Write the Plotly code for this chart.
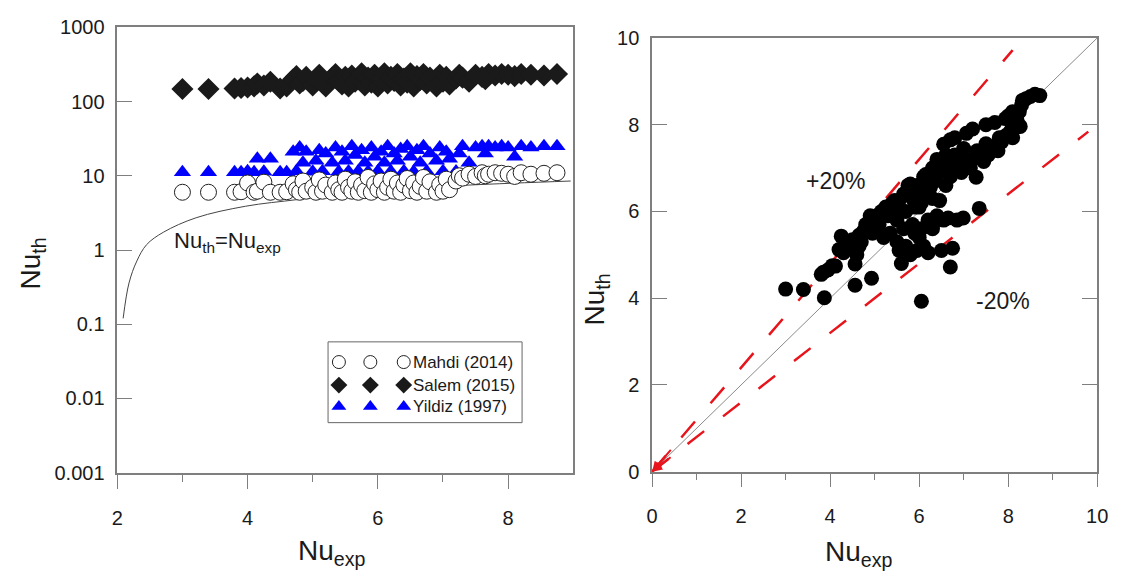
import plotly.graph_objects as go

# ---------------- data: left panel (log scale) ----------------
nu_exp_left = [3.0, 3.4, 3.8, 3.9, 4.0, 4.1, 4.15, 4.25, 4.35, 4.5, 4.6, 4.7, 4.75, 4.8, 4.85,
               4.9, 5.0, 5.05, 5.1, 5.15, 5.2, 5.3, 5.35, 5.4, 5.45, 5.5, 5.55, 5.6, 5.65, 5.7,
               5.75, 5.8, 5.85, 5.9, 5.95, 6.0, 6.05, 6.1, 6.15, 6.2, 6.25, 6.3, 6.35, 6.4, 6.45,
               6.5, 6.55, 6.6, 6.65, 6.7, 6.75, 6.8, 6.9, 6.95, 7.0, 7.05, 7.1, 7.2, 7.25, 7.3,
               7.4, 7.5, 7.6, 7.65, 7.7, 7.8, 7.9, 8.0, 8.1, 8.2, 8.35, 8.55, 8.75]
mahdi = [6.0, 6.0, 6.0, 6.1, 8.0, 6.0, 6.2, 8.2, 6.0, 6.0, 6.1, 7.8, 6.5, 6.0, 8.5,
         6.2, 7.0, 6.0, 8.8, 6.2, 7.5, 6.0, 8.0, 6.5, 6.0, 9.0, 7.0, 6.2, 8.3, 6.0,
         7.5, 6.3, 9.5, 6.0, 7.8, 6.5, 8.5, 6.0, 7.0, 9.0, 6.2, 8.0, 6.0, 7.5, 9.2,
         6.3, 8.0, 6.0, 7.2, 9.5, 6.2, 8.3, 6.0, 7.6, 6.2, 9.0, 6.5, 8.5, 10.0, 9.3,
         10.5, 9.8, 11.0, 10.0, 10.5, 11.0, 10.8, 10.5, 9.8, 11.0, 10.5, 10.8, 11.0]
salem = [148, 148, 150, 152, 155, 160, 175, 165, 185, 150, 160, 200, 220, 175, 190,
         215, 165, 200, 230, 180, 160, 210, 235, 190, 170, 215, 160, 225, 185, 200,
         240, 165, 210, 180, 230, 160, 200, 240, 175, 215, 190, 235, 165, 205, 180,
         240, 160, 220, 195, 235, 175, 210, 160, 230, 185, 215, 170, 205, 230, 210,
         185, 230, 215, 200, 235, 225, 235, 230, 220, 235, 230, 225, 235]
yildiz = [11.2, 11.2, 11.2, 11.2, 11.5, 11.2, 17, 11.3, 17, 11.2, 11.2, 21, 11.5, 24, 15,
          21, 11.3, 16, 22, 11.5, 20, 15, 24, 11.3, 21, 16, 11.4, 25, 19, 11.5,
          22, 15, 11.3, 24, 18, 11.5, 21, 15, 25, 11.4, 20, 16, 23, 11.5, 25,
          18, 11.3, 22, 15, 25, 11.4, 20, 16, 24, 11.5, 21, 17, 11.4, 20, 25,
          15, 24, 25, 20, 25, 24, 25, 24, 18, 25, 24, 25, 25]
# reference curve "Nu_th = Nu_exp" as drawn in the figure
curve_x = [2.09, 2.18, 2.30, 2.45, 2.71, 3.21, 3.97, 4.78, 5.84, 7.4, 8.96]
curve_y = [0.12, 0.36, 0.71, 1.18, 1.74, 2.72, 3.89, 4.8, 6.3, 7.5, 8.5]

# ---------------- data: right panel (parity plot) ----------------
nu_exp_right = [3.0, 3.4, 3.87, 3.8, 3.85, 3.95, 4.05, 4.12, 4.2, 4.25, 4.3, 4.45, 4.56, 4.56,
                4.6, 4.65, 4.7, 4.75, 4.8, 4.85, 4.9, 4.93, 4.95, 5.0, 5.05, 5.1, 5.2, 5.3,
                5.35, 5.4, 5.45, 5.5, 5.5, 5.55, 5.6, 5.6, 5.65, 5.7, 5.75, 5.8, 5.8, 5.85,
                5.9, 5.95, 6.0, 6.05, 6.05, 6.1, 6.1, 6.15, 6.2, 6.2, 6.25, 6.3, 6.3, 6.33,
                6.4, 6.46, 6.46, 6.5, 6.5, 6.55, 6.55, 6.6, 6.65, 6.7, 6.7, 6.7, 6.75, 6.8,
                6.85, 6.9, 6.99, 7.06, 7.1, 7.2, 7.28, 7.3, 7.35, 7.4, 7.5, 7.5, 7.6, 7.7,
                7.77, 7.85, 7.94, 8.0, 8.1, 8.1, 8.2, 8.27, 8.3, 8.32, 8.5, 8.6, 8.71,
                5.15, 5.25, 5.45, 5.55, 5.65, 5.7, 5.85, 5.95, 6.0, 6.05, 6.15, 6.25, 6.35,
                6.45, 6.6, 6.65, 6.75, 6.8, 6.9, 6.95, 7.0, 7.15, 7.2, 7.45, 7.55, 7.75,
                7.8, 7.95, 8.05, 8.2, 8.25, 8.4, 5.9, 6.0, 6.3, 6.4, 4.5, 4.65, 4.35, 5.9]
nu_th_right = [4.21, 4.2, 4.01, 4.55, 4.6, 4.65, 4.75, 4.74, 5.12, 5.43, 5.05, 5.15, 4.3, 4.79,
               5.0, 5.2, 5.3, 5.55, 5.7, 5.6, 5.9, 4.46, 5.5, 5.8, 5.9, 5.7, 5.4, 5.9,
               5.5, 6.2, 6.25, 5.8, 5.3, 5.1, 4.8, 6.0, 5.6, 5.2, 6.6, 6.63, 5.0, 5.7,
               6.5, 5.1, 6.1, 3.93, 5.6, 5.2, 6.8, 6.85, 5.05, 5.8, 6.9, 6.3, 7.0, 5.74,
               7.2, 7.14, 6.25, 5.1, 7.0, 5.8, 7.55, 7.3, 5.85, 7.65, 4.72, 6.8, 5.15, 7.7,
               5.8, 7.0, 5.85, 7.8, 7.2, 7.9, 6.79, 7.4, 6.07, 7.3, 8.0, 7.56, 7.45, 8.05,
               7.4, 7.6, 8.14, 8.2, 7.7, 8.3, 7.95, 7.96, 8.45, 8.56, 8.65, 8.7, 8.67,
               6.0, 6.1, 5.95, 6.25, 6.4, 6.0, 6.3, 6.6, 6.45, 6.2, 6.35, 6.55, 6.7,
               6.9, 6.6, 7.05, 7.1, 7.3, 7.25, 6.9, 7.45, 7.0, 7.2, 7.15, 7.3, 7.55,
               7.7, 7.75, 7.85, 8.1, 8.3, 8.6, 5.5, 5.4, 5.6, 5.9, 5.35, 5.45, 5.25, 6.1]
diag_x = [0, 10]
plus20_x = [0, 8.1]
minus20_x = [0, 9.8]

W, H = 1123, 576
FONT = "Liberation Sans, Arial, sans-serif"
AX = "#7f7f7f"
TXT = "#1a1a1a"
RED = "#e8141c"

fig = go.Figure()

# left panel
fig.add_trace(go.Scatter(x=curve_x, y=curve_y, mode="lines", line=dict(color="#444", width=1, shape="spline"),
                         xaxis="x", yaxis="y", showlegend=False, hoverinfo="skip"))
fig.add_trace(go.Scatter(x=nu_exp_left, y=salem, mode="markers", name="Salem (2015)",
                         marker=dict(symbol="diamond", size=17, color="#1a1a1a"), xaxis="x", yaxis="y"))
fig.add_trace(go.Scatter(x=nu_exp_left, y=yildiz, mode="markers", name="Yildiz (1997)",
                         marker=dict(symbol="triangle-up", size=15, color="#0000ff"), xaxis="x", yaxis="y"))
fig.add_trace(go.Scatter(x=nu_exp_left, y=mahdi, mode="markers", name="Mahdi (2014)",
                         marker=dict(symbol="circle", size=16, color="white", line=dict(color="#222", width=1)),
                         xaxis="x", yaxis="y"))

# right panel
fig.add_trace(go.Scatter(x=diag_x, y=diag_x, mode="lines", line=dict(color="#8a8a8a", width=1),
                         xaxis="x2", yaxis="y2", showlegend=False))
fig.add_trace(go.Scatter(x=plus20_x, y=[v * 1.2 for v in plus20_x], mode="lines",
                         line=dict(color=RED, width=2.5, dash="21px,24px"),
                         xaxis="x2", yaxis="y2", showlegend=False))
fig.add_trace(go.Scatter(x=minus20_x, y=[v * 0.8 for v in minus20_x], mode="lines",
                         line=dict(color=RED, width=2.5, dash="21px,24px"),
                         xaxis="x2", yaxis="y2", showlegend=False))
fig.add_trace(go.Scatter(x=nu_exp_right, y=nu_th_right, mode="markers",
                         marker=dict(symbol="circle", size=15, color="black"),
                         xaxis="x2", yaxis="y2", showlegend=False))

# legend (SigmaPlot-style, three symbols per entry) in its own small axes
leg_names = ["Mahdi (2014)", "Salem (2015)", "Yildiz (1997)"]
leg_styles = [dict(symbol="circle", size=13, color="white", line=dict(color="#222", width=1)),
              dict(symbol="diamond", size=13, color="#1a1a1a"),
              dict(symbol="triangle-up", size=13, color="#0000ff")]
leg_rows = [0.75, 0.465, 0.2]
leg_cols = [0.056, 0.218, 0.39]
for name, st, ry in zip(leg_names, leg_styles, leg_rows):
    fig.add_trace(go.Scatter(x=leg_cols, y=[ry] * 3, mode="markers", marker=st,
                             xaxis="x3", yaxis="y3", showlegend=False, hoverinfo="skip"))
    fig.add_annotation(x=0.425, y=ry, xref="x3", yref="y3", text=name, showarrow=False,
                       xanchor="left", yanchor="middle", font=dict(size=17, color=TXT, family=FONT))

def px(xp):
    return xp / W

def py(yp):
    return 1 - yp / H

fig.add_shape(type="rect", xref="paper", yref="paper", x0=px(327), x1=px(524), y0=py(428), y1=py(344),
              line=dict(color="#666", width=1), fillcolor="rgba(0,0,0,0)")

tickfont = dict(size=20, color=TXT, family=FONT)
fig.update_layout(
    width=W, height=H, autosize=False, margin=dict(l=0, r=0, t=0, b=0),
    paper_bgcolor="white", plot_bgcolor="white", showlegend=False,
    font=dict(family=FONT, color=TXT),
    xaxis=dict(domain=[px(113), px(576)], range=[2, 9], tickvals=[2, 4, 6, 8], ticks="outside", ticklen=15,
               tickcolor=AX, tickwidth=1.2, minor=dict(tickvals=[3, 5, 7], ticks="outside", ticklen=8, tickcolor=AX),
               showline=True, linecolor=AX, linewidth=1.5, mirror=True, showgrid=False, zeroline=False,
               tickfont=tickfont, ticklabelstandoff=12),
    yaxis=dict(domain=[py(480), py(17)], type="log", range=[-3, 3],
               tickvals=[0.001, 0.01, 0.1, 1, 10, 100, 1000],
               ticktext=["0.001", "0.01", "0.1", "1", "10", "100", "1000"],
               ticks="inside", ticklen=15, tickcolor=AX, tickwidth=1.2,
               showline=True, linecolor=AX, linewidth=1.5, mirror=True, showgrid=False, zeroline=False,
               tickfont=tickfont, ticklabelstandoff=7),
    xaxis2=dict(domain=[px(656), px(1108)], range=[0, 10], tickvals=[0, 2, 4, 6, 8, 10], ticks="outside",
                ticklen=14, tickcolor=AX, tickwidth=1.2,
                minor=dict(tickvals=[1, 3, 5, 7, 9], ticks="outside", ticklen=7, tickcolor=AX),
                showline=True, linecolor=AX, linewidth=1.5, mirror=True, showgrid=False, zeroline=False,
                tickfont=tickfont, ticklabelstandoff=12, anchor="y2"),
    yaxis2=dict(domain=[py(479), py(28)], range=[0, 10], tickvals=[0, 2, 4, 6, 8, 10], ticks="inside",
                ticklen=15, tickcolor=AX, tickwidth=1.2,
                showline=True, linecolor=AX, linewidth=1.5, mirror="ticks", showgrid=False, zeroline=False,
                tickfont=tickfont, ticklabelstandoff=7, anchor="x2"),
    xaxis3=dict(domain=[px(327), px(524)], range=[0, 1], visible=False, anchor="y3"),
    yaxis3=dict(domain=[py(428), py(344)], range=[0, 1], visible=False, anchor="x3"),
)

# arrow heads at origin of the +/-20% lines
for k in (1.2, 0.8):
    fig.add_annotation(x=0, y=0, ax=0.45, ay=0.45 * k, xref="x2", yref="y2", axref="x2", ayref="y2",
                       showarrow=True, arrowhead=2, arrowsize=1, arrowwidth=2, arrowcolor=RED, text="")

title_font = dict(size=28, color=TXT, family=FONT)
def label(x, y, text, font, angle=0):
    fig.add_annotation(x=px(x), y=py(y), xref="paper", yref="paper", text=text, textangle=angle,
                       showarrow=False, xanchor="center", yanchor="middle", font=font)

label(27, 263, "Nu<sub>th</sub>", title_font, -90)
label(331, 563, "Nu<sub>exp</sub>", title_font)
label(600, 300, "Nu<sub>th</sub>", title_font, -90)
label(866, 564, "Nu<sub>exp</sub>", title_font)
label(225, 240, "Nu<sub>th</sub>=Nu<sub>exp</sub>", dict(size=22, color=TXT, family=FONT))
label(842, 177, "+20%", dict(size=23, color=TXT, family=FONT))
label(1012, 302, "-20%", dict(size=23, color=TXT, family=FONT))

fig.write_html("out.html")
